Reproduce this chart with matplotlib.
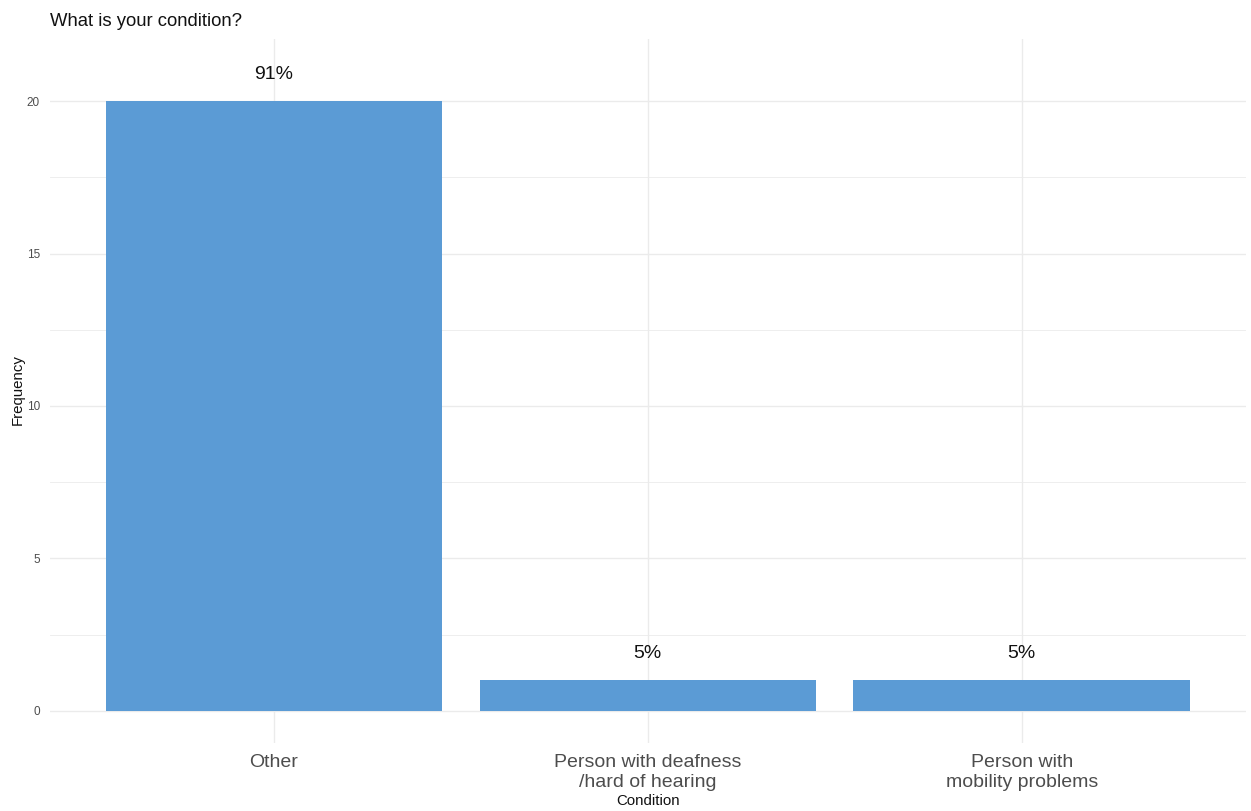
import matplotlib
matplotlib.use("Agg")
import matplotlib.pyplot as plt
import numpy as np

categories = ["Other", "Person with deafness\n/hard of hearing", "Person with\nmobility problems"]
counts = [20, 1, 1]
pct_labels = ["91%", "5%", "5%"]

plt.rcParams['font.family'] = ['Liberation Sans', 'DejaVu Sans']

fig = plt.figure(figsize=(12.51, 8.11), dpi=100)
W, H = 1251, 811
left, right, top, bottom = 49.6, 1246, 38.5, 743
ax = fig.add_axes([left / W, (H - bottom) / H, (right - left) / W, (bottom - top) / H])

x = np.arange(1, len(categories) + 1)
ax.bar(x, counts, width=0.9, color="#5B9BD5", zorder=2)
for xi, c, lab in zip(x, counts, pct_labels):
    ax.text(xi, c + 0.87, lab, ha="center", va="center", fontsize=14, color="#111111", zorder=3)

ax.set_xlim(0.4, 3.6)
ax.set_ylim(-1.05, 22.05)
ax.set_xticks(x)
ax.set_xticklabels(categories, fontsize=14, color="#4d4d4d", linespacing=1.25)
ax.set_yticks([0, 5, 10, 15, 20])
ax.set_yticks([2.5, 7.5, 12.5, 17.5], minor=True)
ax.tick_params(axis="y", labelsize=8.5, colors="#4d4d4d", length=0, which="both", pad=7)
ax.tick_params(axis="x", length=0, pad=8)

ax.grid(True, which="major", color="#ebebeb", linewidth=1.0, zorder=0)
ax.grid(True, which="minor", axis="y", color="#ebebeb", linewidth=0.6, zorder=0)
for s in ax.spines.values():
    s.set_visible(False)

fig.text(648 / W, 1 - 801 / H, "Condition", fontsize=10.8, color="#111111", ha="center", va="center")
fig.text(18 / W, 1 - 390 / H, "Frequency", fontsize=10.8, color="#111111", ha="center", va="center", rotation=90)

fig.text(50 / W, 1 - 21 / H, "What is your condition?", fontsize=13.3, color="#111111", ha="left", va="center")

fig.savefig("out.png", dpi=100)
